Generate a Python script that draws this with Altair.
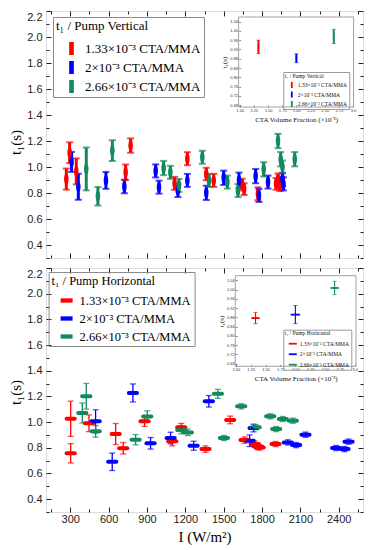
import altair as alt
import pandas as pd

SERIES = ["1.33×10⁻³ CTA/MMA", "2×10⁻³ CTA/MMA", "2.66×10⁻³ CTA/MMA"]
COLORS = ["#ff0000", "#0000ff", "#128a5c"]

# ---------------- top panel: pump vertical ----------------
v_red_I = [269, 295, 347, 733, 772, 1116, 1216, 1364, 1422, 1645, 1660, 1768, 1910, 1925, 1940, 1955]
v_red_t = [0.907, 1.11, 0.966, 0.959, 1.165, 0.874, 1.064, 0.946, 0.897, 0.865, 0.83, 0.794, 0.87, 0.905, 0.855, 0.885]
v_red_e = [0.081, 0.08, 0.1, 0.06, 0.055, 0.05, 0.05, 0.048, 0.05, 0.045, 0.045, 0.05, 0.045, 0.045, 0.04, 0.04]

v_blue_I = [310, 363, 579, 723, 968, 994, 1142, 1216, 1364, 1500, 1620, 1750, 1776, 1847, 1960, 1968]
v_blue_t = [1.039, 0.848, 0.897, 0.85, 0.97, 0.845, 0.819, 0.897, 0.801, 0.917, 0.897, 0.93, 0.781, 0.884, 0.905, 0.87]
v_blue_e = [0.077, 0.1, 0.065, 0.052, 0.05, 0.05, 0.05, 0.05, 0.055, 0.055, 0.06, 0.055, 0.05, 0.05, 0.05, 0.05]

v_green_I = [425, 516, 629, 1030, 1083, 1150, 1333, 1385, 1529, 1612, 1813, 1925, 1946, 1960, 2056]
v_green_t = [0.985, 0.775, 1.126, 0.992, 0.959, 0.858, 1.075, 0.897, 0.884, 0.819, 0.982, 1.2, 1.06, 1.0, 1.06]
v_green_e = [0.165, 0.071, 0.08, 0.055, 0.05, 0.05, 0.05, 0.05, 0.05, 0.05, 0.055, 0.055, 0.055, 0.05, 0.055]

# ---------------- bottom panel: pump horizontal ----------------
h_red_I = [303, 303, 446, 655, 714, 881, 1098, 1168, 1358, 1551, 1663, 1742, 1768, 1781, 1906]
h_red_t = [0.757, 1.026, 0.991, 0.907, 0.796, 1.006, 0.85, 0.96, 0.79, 1.017, 0.86, 0.829, 0.81, 0.803, 0.829]
h_red_e = [0.075, 0.137, 0.065, 0.082, 0.045, 0.04, 0.035, 0.03, 0.025, 0.03, 0.025, 0.025, 0.025, 0.02, 0.02]

h_blue_I = [498, 628, 790, 928, 1085, 1265, 1384, 1703, 1734, 2002, 2067, 2140, 2380, 2445, 2477]
h_blue_t = [1.006, 0.691, 1.227, 0.835, 0.876, 0.816, 1.162, 0.855, 0.954, 0.842, 0.821, 0.902, 0.798, 0.79, 0.848]
h_blue_e = [0.09, 0.068, 0.07, 0.045, 0.045, 0.035, 0.045, 0.045, 0.03, 0.02, 0.02, 0.02, 0.02, 0.02, 0.02]

h_green_I = [394, 425, 498, 811, 902, 1168, 1220, 1455, 1502, 1637, 1750, 1864, 1911, 1963, 2041]
h_green_t = [1.071, 1.201, 0.928, 0.863, 1.043, 0.939, 0.92, 1.22, 0.876, 1.123, 0.96, 1.045, 0.946, 1.024, 1.011]
h_green_e = [0.078, 0.1, 0.045, 0.04, 0.045, 0.03, 0.025, 0.035, 0.02, 0.02, 0.02, 0.02, 0.02, 0.02, 0.02]
h_x_err = 32  # W/m2 half width of horizontal error bars

# ---------------- insets ----------------
ins_cta = [1.33, 2.0, 2.66]
ins_v_t = [0.931, 0.882, 0.976]
ins_v_e = [0.029, 0.019, 0.031]
ins_h_t = [0.877, 0.892, 1.007]
ins_h_e = [0.024, 0.039, 0.029]
ins_h_xe = [0.07, 0.08, 0.07]

# ---------------- axis ticks ----------------
X_TICKS = [300, 600, 900, 1200, 1500, 1800, 2100, 2400]
X_MINOR = [150, 450, 750, 1050, 1350, 1650, 1950, 2250, 2550]
Y_TICKS = [0.4, 0.6, 0.8, 1.0, 1.2, 1.4, 1.6, 1.8, 2.0, 2.2]
Y_MINOR = [0.3, 0.5, 0.7, 0.9, 1.1, 1.3, 1.5, 1.7, 1.9, 2.1]
INS_X_TICKS = [1.0, 1.25, 1.5, 1.75, 2.0, 2.25, 2.5, 2.75, 3.0]
INS_Y_TICKS = [0.68, 0.72, 0.76, 0.8, 0.84, 0.88, 0.92, 0.96, 1.0, 1.04]

SERIF = "Liberation Serif"
SANS = "Liberation Sans"
W = 317
H_TOP = 247
H_BOT = 244

V_ELL = "M0,-1C0.55,-1 0.55,1 0,1C-0.55,1 -0.55,-1 0,-1Z"
H_ELL = "M-1,0C-1,-0.6 1,-0.6 1,0C1,0.6 -1,0.6 -1,0Z"
V_STAD = "M-0.36,-1L0.36,-1L0.36,1L-0.36,1Z"
H_STAD = "M-1,-0.36L1,-0.36L1,0.36L-1,0.36Z"
V_BAR = "M-0.3,-1L0.3,-1L0.3,1L-0.3,1Z"
H_BAR = "M-1,-0.22L1,-0.22L1,0.22L-1,0.22Z"

cscale = alt.Scale(domain=SERIES, range=COLORS)


def xs():
    return alt.Scale(domain=[110, 2590], nice=False, zero=False)


def ys():
    return alt.Scale(domain=[0.3, 2.2], nice=False, zero=False)


def rows(Is, ts, es, name, xe=None):
    out = []
    for i, t, e in zip(Is, ts, es):
        r = {"I": i, "t": t, "lo": t - e, "hi": t + e, "s": name}
        if xe is not None:
            r["Ilo"] = i - xe
            r["Ihi"] = i + xe
        out.append(r)
    return out


df_v = pd.DataFrame(rows(v_red_I, v_red_t, v_red_e, SERIES[0])
                    + rows(v_blue_I, v_blue_t, v_blue_e, SERIES[1])
                    + rows(v_green_I, v_green_t, v_green_e, SERIES[2]))
df_h = pd.DataFrame(rows(h_red_I, h_red_t, h_red_e, SERIES[0], h_x_err)
                    + rows(h_blue_I, h_blue_t, h_blue_e, SERIES[1], h_x_err)
                    + rows(h_green_I, h_green_t, h_green_e, SERIES[2], h_x_err))

df_iv = pd.DataFrame({"c": ins_cta, "t": ins_v_t,
                      "lo": [a - b for a, b in zip(ins_v_t, ins_v_e)],
                      "hi": [a + b for a, b in zip(ins_v_t, ins_v_e)], "s": SERIES})
df_ih = pd.DataFrame({"c": ins_cta, "t": ins_h_t,
                      "lo": [a - b for a, b in zip(ins_h_t, ins_h_e)],
                      "hi": [a + b for a, b in zip(ins_h_t, ins_h_e)],
                      "clo": [a - b for a, b in zip(ins_cta, ins_h_xe)],
                      "chi": [a + b for a, b in zip(ins_cta, ins_h_xe)], "s": SERIES})


def tick_axis(orient, values, size, labels=False, **kw):
    return alt.Axis(orient=orient, values=values, tickSize=size, offset=-size,
                    domain=False, grid=False, tickColor="#222", tickWidth=1,
                    labels=labels, minExtent=0, **kw)


def main_children(df, horizontal, legend, x_labels, title_y):
    base = alt.Chart(df)
    if x_labels:
        xmaj = tick_axis("bottom", X_TICKS, 5, labels=True, format="d", labelFont=SANS,
                         labelFontSize=11, labelColor="#222", labelPadding=1,
                         labelFlush=False, labelOverlap=False, title="I (W/m²)",
                         titleFont=SERIF, titleFontSize=15, titleFontWeight="normal",
                         titleColor="#000", titlePadding=5)
    else:
        xmaj = tick_axis("bottom", X_TICKS, 5, title=None)
    ymaj = tick_axis("left", Y_TICKS, 5, labels=True, format=".1f", labelFont=SANS,
                     labelFontSize=11, labelColor="#222", labelPadding=4,
                     labelOverlap=False, labelFlush=True, title="t₁(s)", titleFont=SERIF,
                     titleFontSize=15, titleFontWeight="normal", titleColor="#000",
                     titlePadding=3, titleY=title_y)
    col = alt.Color("s:N", scale=cscale, legend=None)
    stem_w = 1.3 if horizontal else 3
    cap = dict(orient="horizontal", size=7 if not horizontal else 6,
               thickness=2 if not horizontal else 1.3)
    stem = base.mark_rule(strokeWidth=stem_w).encode(
        x=alt.X("I:Q", scale=xs(), axis=xmaj),
        y=alt.Y("lo:Q", scale=ys(), axis=ymaj), y2="hi:Q", color=col)
    cap_hi = base.mark_tick(**cap).encode(
        x=alt.X("I:Q", scale=xs(), axis=tick_axis("bottom", X_MINOR, 3, title=None)),
        y=alt.Y("hi:Q", scale=ys(), axis=tick_axis("left", Y_MINOR, 3, title=None)),
        color=col)
    cap_lo = base.mark_tick(**cap).encode(
        x=alt.X("I:Q", scale=xs(), axis=tick_axis("top", X_TICKS, 5, title=None)),
        y=alt.Y("lo:Q", scale=ys(), axis=tick_axis("right", Y_TICKS, 5, title=None)),
        color=col)
    out = [stem, cap_hi, cap_lo]
    minor_top = tick_axis("top", X_MINOR, 3, title=None)
    minor_right = tick_axis("right", Y_MINOR, 3, title=None)
    if horizontal:
        xbar = base.mark_rule(strokeWidth=4, strokeCap="round").encode(
            x=alt.X("Ilo:Q", scale=xs(), axis=minor_top), x2="Ihi:Q",
            y=alt.Y("t:Q", scale=ys(), axis=minor_right), color=col)
        out.append(xbar)
        marker = base.mark_point(shape=H_ELL, filled=True, size=42, opacity=1).encode(
            x=alt.X("I:Q", scale=xs(), axis=None), y=alt.Y("t:Q", scale=ys(), axis=None),
            color=alt.Color("s:N", scale=cscale, legend=legend))
    else:
        marker = base.mark_point(shape=V_ELL, filled=True, size=121, opacity=1).encode(
            x=alt.X("I:Q", scale=xs(), axis=minor_top),
            y=alt.Y("t:Q", scale=ys(), axis=minor_right),
            color=alt.Color("s:N", scale=cscale, legend=legend))
    out.append(marker)
    return out


def inset_children(df, horizontal, xr, yr, xdom, ydom, height, legend):
    def ixs():
        return alt.Scale(domain=xdom, range=xr, nice=False, zero=False)

    def iys():
        return alt.Scale(domain=ydom, range=yr, nice=False, zero=False)

    box = pd.DataFrame({"x0": [xdom[0]], "x1": [xdom[1]], "y0": [ydom[0]], "y1": [ydom[1]]})
    ix_axis = alt.Axis(orient="bottom", values=INS_X_TICKS, offset=(yr[0] - 2) - height,
                       tickSize=2, tickColor="#444", tickWidth=0.6, domain=False, grid=False,
                       labelExpr="datum.value == 3 ? '3.0' : format(datum.value, '.2f')",
                       labelFont=SANS, labelFontSize=4, labelColor="#333", labelPadding=1,
                       labelFlush=False, labelOverlap=False, minExtent=0,
                       title="CTA Volume Fraction (×10⁻³)", titleFont=SERIF, titleFontSize=7,
                       titleFontWeight="normal", titleColor="#111", titlePadding=3)
    iy_axis = alt.Axis(orient="left", values=INS_Y_TICKS, offset=-(xr[0] + 2),
                       tickSize=2, tickColor="#444", tickWidth=0.6, domain=False, grid=False,
                       format=".2f", labelFont=SANS, labelFontSize=4, labelColor="#333",
                       labelPadding=1, labelOverlap=False, minExtent=0, title="t₁(s)",
                       titleFont=SERIF, titleFontSize=7, titleFontWeight="normal",
                       titleColor="#111", titlePadding=2)
    frame = alt.Chart(box).mark_rect(fillOpacity=0, stroke="#8a8a8a", strokeWidth=0.8).encode(
        x=alt.X("x0:Q", scale=ixs(), axis=ix_axis), x2="x1:Q",
        y=alt.Y("y0:Q", scale=iys(), axis=iy_axis), y2="y1:Q")
    base = alt.Chart(df)
    col = alt.Color("s:N", scale=cscale, legend=None)
    stem = base.mark_rule(strokeWidth=1.1 if horizontal else 2).encode(
        x=alt.X("c:Q", scale=ixs(), axis=None),
        y=alt.Y("lo:Q", scale=iys(), axis=None), y2="hi:Q", color=col)
    cap_hi = base.mark_tick(orient="horizontal", size=4, thickness=0.9).encode(
        x=alt.X("c:Q", scale=ixs(), axis=None),
        y=alt.Y("hi:Q", scale=iys(), axis=None), color=col)
    cap_lo = base.mark_tick(orient="horizontal", size=4, thickness=0.9).encode(
        x=alt.X("c:Q", scale=ixs(), axis=None),
        y=alt.Y("lo:Q", scale=iys(), axis=None), color=col)
    out = [frame, stem, cap_hi, cap_lo]
    if horizontal:
        xbar = base.mark_rule(strokeWidth=1.8).encode(
            x=alt.X("clo:Q", scale=ixs(), axis=None), x2="chi:Q",
            y=alt.Y("t:Q", scale=iys(), axis=None), color=col)
        out.append(xbar)
        mk = base.mark_point(shape=H_BAR, filled=True, size=20, opacity=1)
    else:
        mk = base.mark_point(shape=V_BAR, filled=True, size=20, opacity=1)
    out.append(mk.encode(x=alt.X("c:Q", scale=ixs(), axis=None),
                         y=alt.Y("t:Q", scale=iys(), axis=None),
                         color=alt.Color("s:N", scale=cscale, legend=legend)))
    return out


def big_legend(title, shape, size, x, y, fs, row_pad, title_pad):
    return alt.Legend(orient="none", legendX=x, legendY=y, title=title, titleFont=SERIF,
                      titleFontSize=fs, titleFontWeight="normal", titleColor="#000",
                      labelFont=SERIF, labelFontSize=fs, labelColor="#000",
                      symbolType=shape, symbolSize=size, strokeColor="#8c8c8c",
                      padding=3, titlePadding=title_pad, rowPadding=row_pad, symbolOffset=8,
                      labelOffset=6)


def small_legend(title, shape, size, x, y):
    return alt.Legend(orient="none", legendX=x, legendY=y, title=title, titleFont=SERIF,
                      titleFontSize=5.5, titleFontWeight="normal", titleColor="#111",
                      labelFont=SERIF, labelFontSize=5.5, labelColor="#111",
                      symbolType=shape, symbolSize=size, strokeColor="#9a9a9a",
                      padding=1.5, titlePadding=2, rowPadding=1.5, symbolOffset=3,
                      labelOffset=2)


top = alt.layer(
    *main_children(df_v, False, big_legend("t₁ / Pump Vertical", V_STAD, 169, 7, 6, 13, 4, 8),
                   False, 131),
    *inset_children(df_iv, False, [192.6, 307.6], [96, 6], [0.98, 3.01], [0.672, 1.06], H_TOP,
                    small_legend("t₁ / Pump Vertical", V_BAR, 36, 237.3, 61)),
).resolve_scale(x="independent", y="independent").resolve_legend(color="independent").properties(
    width=W, height=H_TOP)

bottom = alt.layer(
    *main_children(df_h, True, big_legend("t₁ / Pump Horizontal", H_STAD, 144, 2.6, 4, 12.5, 4, 6),
                   True, 124),
    *inset_children(df_ih, True, [189.3, 310], [98.3, 7.7], [0.99, 3.02], [0.669, 1.06], H_BOT,
                    small_legend("t₁ / Pump Horizontal", H_BAR, 64, 237.3, 61.7)),
).resolve_scale(x="independent", y="independent").resolve_legend(color="independent").properties(
    width=W, height=H_BOT)

chart = alt.vconcat(top, bottom, spacing=8).resolve_legend(color="independent").properties(
    padding={"left": 0, "top": 2, "right": 5, "bottom": 5}
).configure_view(stroke="#222", strokeWidth=1.2).configure(background="white")

chart.save("out.html", embed_options={"renderer": "svg", "actions": False})
